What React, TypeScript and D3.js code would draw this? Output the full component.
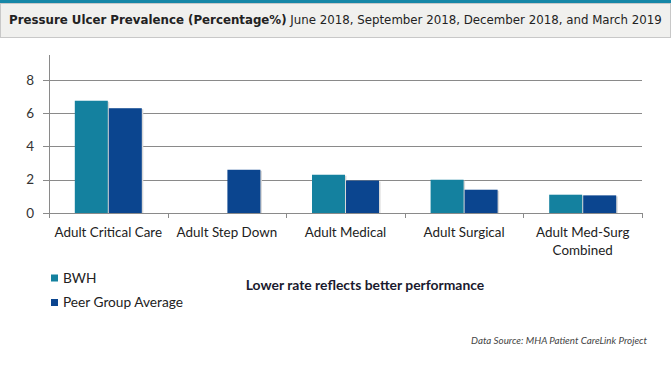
import React, { useEffect, useRef } from "react";
import * as d3 from "d3";

const categories = [
  "Adult Critical Care",
  "Adult Step Down",
  "Adult Medical",
  "Adult Surgical",
  "Adult Med-Surg Combined",
];
const seriesNames = ["BWH", "Peer Group Average"];
const bwhValues = [6.75, null, 2.3, 2.0, 1.1];
const peerValues = [6.3, 2.6, 1.95, 1.4, 1.06];
const yTicks = [0, 2, 4, 6, 8];
const colors = ["#14819f", "#0b458f"];

const W = 671;
const H = 366;

const App = () => {
  const svgRef = useRef<SVGSVGElement>(null);

  useEffect(() => {
    const svg = d3.select(svgRef.current);
    svg.selectAll("*").remove();

    const margin = { top: 55, bottom: 153, left: 49, right: 29 };
    const font = "Lato, 'Open Sans', sans-serif";

    // ---------------------- header
    svg.append("rect").attr("x", 0).attr("y", 0).attr("width", W).attr("height", 3).attr("fill", "#1687a7");
    svg
      .append("rect")
      .attr("x", 0.5)
      .attr("y", 3.5)
      .attr("width", W - 1)
      .attr("height", 34)
      .attr("fill", "#f0f0ee")
      .attr("stroke", "#c8c8c8");
    const title = svg
      .append("text")
      .attr("x", 9)
      .attr("y", 24)
      .attr("font-family", "'DejaVu Sans', Verdana, sans-serif")
      .attr("font-size", 11.8)
      .attr("fill", "#222");
    title.append("tspan").attr("font-weight", "bold").text("Pressure Ulcer Prevalence (Percentage%)");
    title.append("tspan").text(" June 2018, September 2018, December 2018, and March 2019");

    // ---------------------- scale
    const x = d3
      .scaleBand()
      .domain(categories)
      .range([margin.left, W - margin.right]);
    const y = d3
      .scaleLinear()
      .domain([0, 9.5])
      .range([H - margin.bottom, margin.top]);
    const xGroup = d3.scaleBand().domain(seriesNames).range([0, 67]).paddingInner(0.03);

    // ---------------------- grid
    svg
      .append("g")
      .selectAll("line")
      .data(yTicks)
      .join("line")
      .attr("x1", margin.left - 6)
      .attr("x2", W - margin.right)
      .attr("y1", (d) => Math.round(y(d)) + 0.5)
      .attr("y2", (d) => Math.round(y(d)) + 0.5)
      .attr("stroke", "#8a8a8a");

    svg
      .append("line")
      .attr("x1", margin.left + 0.5)
      .attr("x2", margin.left + 0.5)
      .attr("y1", margin.top)
      .attr("y2", y(0))
      .attr("stroke", "#8a8a8a");

    svg
      .append("g")
      .selectAll("text")
      .data(yTicks)
      .join("text")
      .attr("x", margin.left - 15)
      .attr("y", (d) => y(d))
      .attr("dy", "0.35em")
      .attr("text-anchor", "end")
      .attr("font-family", font)
      .attr("font-size", 13.5)
      .attr("fill", "#333")
      .text((d) => d);

    // x ticks at band edges
    const edges = categories.map((c) => x(c) as number).concat([W - margin.right]);
    svg
      .append("g")
      .selectAll("line")
      .data(edges)
      .join("line")
      .attr("x1", (d) => Math.round(d) + 0.5)
      .attr("x2", (d) => Math.round(d) + 0.5)
      .attr("y1", y(0))
      .attr("y2", y(0) + 5)
      .attr("stroke", "#8a8a8a");

    // -------------------- bars
    const rows = categories.map((c, i) => ({
      cat: c,
      vals: [
        { key: seriesNames[0], value: bwhValues[i] },
        { key: seriesNames[1], value: peerValues[i] },
      ],
    }));

    const groups = svg
      .append("g")
      .selectAll("g")
      .data(rows)
      .join("g")
      .attr("transform", (d) => `translate(${(x(d.cat) as number) + x.bandwidth() / 2 - 33.5}, 0)`);

    const bars = groups
      .selectAll("g")
      .data((d) => d.vals.filter((v) => v.value != null))
      .join("g");

    bars
      .append("rect")
      .attr("x", (d) => (xGroup(d.key) as number) + 1.5)
      .attr("y", (d) => y(d.value as number) + 1)
      .attr("width", xGroup.bandwidth())
      .attr("height", (d) => y(0) - y(d.value as number) - 1)
      .attr("fill", "#d8d8d8");

    bars
      .append("rect")
      .attr("x", (d) => xGroup(d.key) as number)
      .attr("y", (d) => y(d.value as number))
      .attr("width", xGroup.bandwidth())
      .attr("height", (d) => y(0) - y(d.value as number))
      .attr("fill", (d) => colors[seriesNames.indexOf(d.key)]);

    // ------------------- category labels
    const labels = svg
      .append("g")
      .selectAll("text")
      .data(categories)
      .join("text")
      .attr("x", (d) => (x(d) as number) + x.bandwidth() / 2)
      .attr("y", 237)
      .attr("text-anchor", "middle")
      .attr("font-family", font)
      .attr("font-size", 13.4)
      .attr("fill", "#222");
    labels.each(function (d) {
      const t = d3.select(this);
      const parts = d === "Adult Med-Surg Combined" ? ["Adult Med-Surg", "Combined"] : [d];
      parts.forEach((p, i) => {
        t.append("tspan")
          .attr("x", (x(d) as number) + x.bandwidth() / 2)
          .attr("dy", i === 0 ? 0 : 18)
          .text(p);
      });
    });

    // ------------------- legend
    const legend = svg
      .append("g")
      .selectAll("g")
      .data(seriesNames)
      .join("g")
      .attr("transform", (d, i) => `translate(51, ${278 + i * 24.5})`);
    legend
      .append("rect")
      .attr("x", 0)
      .attr("y", -3.5)
      .attr("width", 7)
      .attr("height", 7)
      .attr("fill", (d, i) => colors[i]);
    legend
      .append("text")
      .attr("x", 12)
      .attr("dy", "0.35em")
      .attr("font-family", font)
      .attr("font-size", 13.7)
      .attr("fill", "#222")
      .text((d) => d);

    svg
      .append("text")
      .attr("x", 365)
      .attr("y", 285)
      .attr("dy", "0.35em")
      .attr("text-anchor", "middle")
      .attr("font-family", font)
      .attr("font-size", 13.9)
      .attr("font-weight", "bold")
      .attr("fill", "#1a1a2e")
      .text("Lower rate reflects better performance");

    svg
      .append("text")
      .attr("x", 647)
      .attr("y", 341)
      .attr("dy", "0.35em")
      .attr("text-anchor", "end")
      .attr("font-family", font)
      .attr("font-size", 9.8)
      .attr("font-style", "italic")
      .attr("fill", "#444")
      .text("Data Source: MHA Patient CareLink Project");
  }, []);

  return (
    <div style={{ position: "absolute", left: 0, top: 0, background: "#fff" }}>
      <svg ref={svgRef} width={W} height={H} style={{ display: "block" }} />
    </div>
  );
};

export default App;
